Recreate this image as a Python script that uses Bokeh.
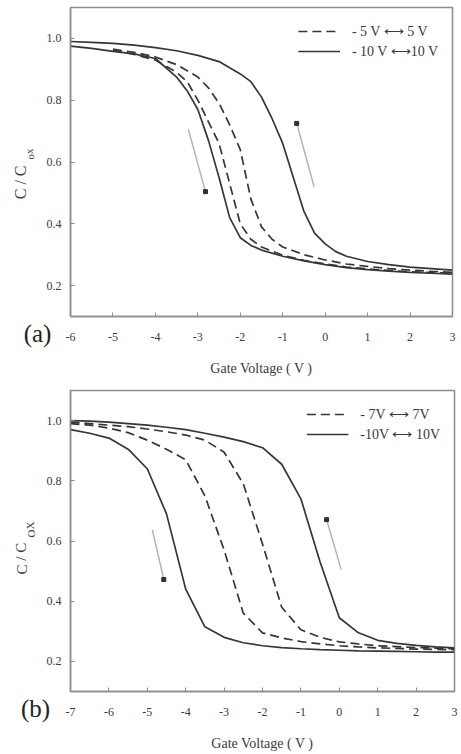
from bokeh.plotting import figure
from bokeh.models import (Legend, LegendItem, FixedTicker, CustomJSTickFormatter, Range1d)
from bokeh.core.properties import value
from bokeh.layouts import column, row
from bokeh.embed import file_html
from bokeh.resources import INLINE

# ---------------- Panel (a) data ----------------
a_solid_down_x = [-6, -5.5, -5, -4.5, -4, -3.5, -3.25, -3.0, -2.75, -2.5, -2.25, -2.0, -1.75, -1.5, -1.0, -0.5, 0, 0.5, 1, 1.5, 2, 2.5, 3]
a_solid_down_y = [0.975, 0.968, 0.958, 0.95, 0.935, 0.875, 0.83, 0.77, 0.67, 0.55, 0.42, 0.355, 0.33, 0.315, 0.295, 0.28, 0.268, 0.258, 0.252, 0.247, 0.243, 0.24, 0.237]

a_solid_up_x = [-6, -5.5, -5, -4.5, -4, -3.5, -3, -2.5, -2, -1.75, -1.5, -1.25, -1.0, -0.75, -0.5, -0.25, 0, 0.25, 0.5, 1, 1.5, 2, 2.5, 3]
a_solid_up_y = [0.99, 0.987, 0.984, 0.978, 0.97, 0.96, 0.945, 0.925, 0.885, 0.86, 0.81, 0.74, 0.66, 0.55, 0.44, 0.37, 0.335, 0.31, 0.295, 0.278, 0.268, 0.26, 0.255, 0.25]

a_dash_down_x = [-5, -4.5, -4, -3.5, -3.25, -3.0, -2.75, -2.5, -2.25, -2.0, -1.75, -1.5, -1.0, -0.5, 0, 0.5, 1, 1.5, 2, 2.5, 3]
a_dash_down_y = [0.962, 0.948, 0.93, 0.89, 0.86, 0.80, 0.73, 0.66, 0.53, 0.40, 0.35, 0.325, 0.298, 0.282, 0.27, 0.26, 0.254, 0.249, 0.245, 0.242, 0.24]

a_dash_up_x = [-5, -4.5, -4, -3.5, -3.0, -2.75, -2.5, -2.25, -2.0, -1.75, -1.5, -1.25, -1.0, -0.5, 0, 0.5, 1, 1.5, 2, 2.5, 3]
a_dash_up_y = [0.965, 0.955, 0.94, 0.915, 0.875, 0.84, 0.79, 0.72, 0.64, 0.48, 0.39, 0.35, 0.325, 0.30, 0.283, 0.27, 0.262, 0.255, 0.25, 0.246, 0.243]

a_arrows_x0 = [-3.225, -0.26]
a_arrows_y0 = [0.706, 0.52]
a_arrows_x1 = [-2.82, -0.67]
a_arrows_y1 = [0.504, 0.725]

a_x_ticks = [-6, -5, -4, -3, -2, -1, 0, 1, 2, 3]
a_legend = ["- 5 V \u27f7 5 V", "- 10 V \u27f710 V"]

# ---------------- Panel (b) data ----------------
b_x = [-7, -6.5, -6, -5.5, -5, -4.5, -4, -3.5, -3, -2.5, -2, -1.5, -1, -0.5, 0, 0.5, 1, 1.5, 2, 2.5, 3]
b_solid_down_y = [0.97, 0.958, 0.942, 0.905, 0.84, 0.69, 0.44, 0.315, 0.28, 0.262, 0.252, 0.246, 0.242, 0.239, 0.237, 0.235, 0.234, 0.233, 0.232, 0.231, 0.231]
b_dash_down_y = [0.99, 0.985, 0.975, 0.96, 0.935, 0.905, 0.87, 0.75, 0.57, 0.36, 0.295, 0.278, 0.266, 0.258, 0.252, 0.248, 0.245, 0.243, 0.241, 0.24, 0.239]
b_dash_up_y = [0.995, 0.99, 0.985, 0.98, 0.972, 0.963, 0.952, 0.935, 0.895, 0.79, 0.59, 0.38, 0.305, 0.28, 0.265, 0.258, 0.252, 0.249, 0.246, 0.244, 0.242]
b_solid_up_y = [1.0, 0.998, 0.995, 0.99, 0.985, 0.978, 0.97, 0.958, 0.945, 0.93, 0.91, 0.855, 0.74, 0.53, 0.345, 0.295, 0.27, 0.26, 0.253, 0.248, 0.245]

b_arrows_x0 = [-4.87, 0.05]
b_arrows_y0 = [0.638, 0.505]
b_arrows_x1 = [-4.57, -0.33]
b_arrows_y1 = [0.472, 0.671]

b_x_ticks = [-7, -6, -5, -4, -3, -2, -1, 0, 1, 2, 3]
b_legend = ["- 7V \u27f7 7V", "-10V \u27f7 10V"]

y_ticks = [0.2, 0.4, 0.6, 0.8, 1.0]
y_tick_labels = ["0.2", "0.4", "0.6", "0.8", "1.0"]
Y_MIN, Y_MAX = 0.1, 1.1

SERIF = "Liberation Serif"
CURVE = "#363636"
FRAME = "#8c8c8c"
TXT = "#3a3a3a"

STRIP_W = 62


def make_main(xr, height, top, bottom, right, frame_w, x_ticks, curves, arrows, legend_labels):
    width = 8 + frame_w + right
    p = figure(width=width, height=height, output_backend="svg", toolbar_location=None,
               x_range=Range1d(*xr), y_range=Range1d(Y_MIN, Y_MAX),
               min_border_left=8, min_border_right=right, min_border_top=top,
               min_border_bottom=bottom)
    p.grid.visible = False
    p.outline_line_color = FRAME
    p.outline_line_width = 1.5
    p.background_fill_color = "white"
    p.border_fill_color = "white"

    for ax in (p.xaxis[0], p.yaxis[0]):
        ax.axis_line_color = FRAME
        ax.axis_line_width = 1.5
        ax.major_tick_line_color = FRAME
        ax.major_tick_in = 4
        ax.major_tick_out = 0
        ax.minor_tick_line_color = None
        ax.major_label_text_font = SERIF
        ax.major_label_text_font_size = "12px"
        ax.major_label_text_color = TXT

    p.xaxis.ticker = FixedTicker(ticks=x_ticks)
    p.xaxis.major_label_overrides = {t: str(t) for t in x_ticks}
    p.xaxis.major_label_standoff = 16
    p.xaxis.axis_label = "Gate Voltage ( V )"
    p.xaxis.axis_label_text_font = SERIF
    p.xaxis.axis_label_text_font_style = "normal"
    p.xaxis.axis_label_text_font_size = "14px"
    p.xaxis.axis_label_text_color = TXT
    p.xaxis.axis_label_standoff = 17

    # y tick labels are drawn in the left strip figure (so that the panel tag fits)
    p.yaxis.ticker = FixedTicker(ticks=y_ticks)
    p.yaxis.formatter = CustomJSTickFormatter(code="return ''")
    p.yaxis.major_label_standoff = 0

    rends = []
    for (xs, ys, dash) in curves:
        r = p.line(xs, ys, line_color=CURVE, line_width=1.7, line_dash=dash)
        rends.append((r, dash))

    ax0, ay0, ax1, ay1 = arrows
    p.segment(ax0, ay0, ax1, ay1, line_color="#b4b4b4", line_width=1.5)
    p.scatter(ax1, ay1, size=4, color="#303030", marker="square")

    r_dash = [r for r, d in rends if d != "solid"][0]
    r_solid = [r for r, d in rends if d == "solid"][0]
    legend = Legend(items=[LegendItem(label=legend_labels[0], renderers=[r_dash]),
                           LegendItem(label=legend_labels[1], renderers=[r_solid])],
                    location="top_right", glyph_width=42, glyph_height=20, label_height=20,
                    label_standoff=12, spacing=0, padding=10, margin=4,
                    border_line_alpha=0, background_fill_alpha=0,
                    label_text_font=SERIF, label_text_font_size="14px", label_text_color=TXT)
    p.add_layout(legend)
    return p


def make_strip(height, top, frame_h, tag, tag_x, main_xy, sub_xy, sub_text, main_size):
    # the strip's frame is aligned with the main panel's frame by the row layout,
    # so it shares the same vertical data mapping
    per_px = (Y_MAX - Y_MIN) / frame_h

    def vy(px):
        return Y_MAX - (px - top) * per_px

    s = figure(width=STRIP_W, height=height, output_backend="svg", toolbar_location=None,
               x_range=Range1d(0, STRIP_W), y_range=Range1d(Y_MIN, Y_MAX),
               y_axis_type=None,
               min_border_left=0, min_border_right=0, min_border_top=0, min_border_bottom=0)
    s.grid.visible = False
    s.outline_line_color = None
    s.background_fill_color = "white"
    s.border_fill_color = "white"

    # panel tag drawn as the only label of the strip's bottom axis
    ax = s.xaxis[0]
    ax.ticker = FixedTicker(ticks=[tag_x])
    ax.major_label_overrides = {tag_x: tag}
    ax.axis_line_color = None
    ax.major_tick_line_color = None
    ax.minor_tick_line_color = None
    ax.major_tick_in = 0
    ax.major_tick_out = 0
    ax.major_label_standoff = 3
    ax.major_label_text_font = SERIF
    ax.major_label_text_font_size = "25px"
    ax.major_label_text_color = "#222222"

    s.text(x=[STRIP_W - 1] * len(y_ticks), y=y_ticks, text=y_tick_labels,
           text_font=value(SERIF), text_font_size="12px", text_color=TXT,
           text_align="right", text_baseline="middle")
    s.text(x=[main_xy[0]], y=[vy(main_xy[1])], text=["C / C"], angle=1.5708,
           text_font=value(SERIF), text_font_size=main_size, text_color=TXT,
           text_align="left", text_baseline="middle")
    s.text(x=[sub_xy[0]], y=[vy(sub_xy[1])], text=[sub_text], angle=1.5708,
           text_font=value(SERIF), text_font_size="11px", text_color=TXT,
           text_align="left", text_baseline="middle")
    return s


pa = make_main((-6, 3), 378, 7, 60, 6, 382, a_x_ticks,
               [(a_solid_down_x, a_solid_down_y, "solid"),
                (a_solid_up_x, a_solid_up_y, "solid"),
                (a_dash_down_x, a_dash_down_y, "9 5"),
                (a_dash_up_x, a_dash_up_y, "9 5")],
               (a_arrows_x0, a_arrows_y0, a_arrows_x1, a_arrows_y1), a_legend)
sa = make_strip(378, 7, 311, "(a)", 37, (20, 200), (29, 160), "ox", "16px")

pb = make_main((-7, 3), 376, 12, 63, 4, 384, b_x_ticks,
               [(b_x, b_solid_down_y, "solid"),
                (b_x, b_solid_up_y, "solid"),
                (b_x, b_dash_down_y, "9 5"),
                (b_x, b_dash_up_y, "9 5")],
               (b_arrows_x0, b_arrows_y0, b_arrows_x1, b_arrows_y1), b_legend)
sb = make_strip(376, 12, 301, "(b)", 35, (21, 196), (30, 159), "OX", "15px")

layout = column(row(sa, pa, spacing=0), row(sb, pb, spacing=0), spacing=0)
open("out.html", "w").write(file_html(layout, INLINE))
